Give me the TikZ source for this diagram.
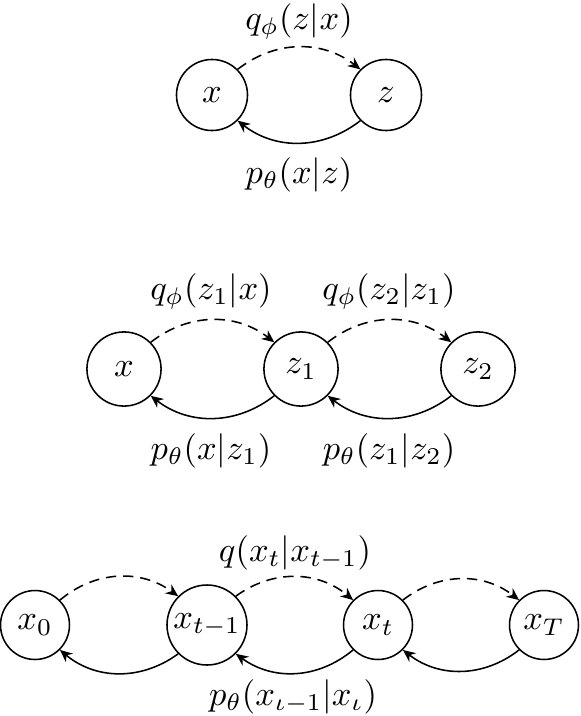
\documentclass[tikz,border=0pt]{standalone}
\usetikzlibrary{arrows.meta}
\begin{document}
\begin{tikzpicture}[x=0.29pt,y=-0.29pt,
  state/.style={circle,draw,line width=0.45pt,minimum size=21pt,inner sep=0pt},
  fwd/.style={line width=0.45pt,dash pattern=on 3pt off 2pt,-{Stealth[length=3.6pt,width=3.2pt]},bend left=38},
  bwd/.style={line width=0.45pt,-{Stealth[length=3.6pt,width=3.2pt]},bend left=38},
  lbl/.style={inner sep=0pt}]
\useasboundingbox (0,0) rectangle (580,716);
% top
\node[state,minimum size=20.6pt] (a1) at (212,95) {$x$};
\node[state,minimum size=20.6pt] (a2) at (386,95) {$z$};
\draw[fwd] (a1.45) to (a2.135);
\draw[bwd] (a2.-135) to (a1.-45);
\node[lbl] (la1) at (299,21) {$q_\phi(z|x)$};
\node[lbl] (la2) at (299,175) {$p_\theta(x|z)$};
% middle
\node[state,minimum size=21.5pt] (b1) at (124,369) {$x$};
\node[state,minimum size=21.5pt] (b2) at (301,369) {$z_1$};
\node[state,minimum size=21.5pt] (b3) at (478,369) {$z_2$};
\draw[fwd] (b1.45) to (b2.135);
\draw[fwd] (b2.45) to (b3.135);
\draw[bwd] (b2.-135) to (b1.-45);
\draw[bwd] (b3.-135) to (b2.-45);
\node[lbl] (lb1) at (211,291) {$q_\phi(z_1|x)$};
\node[lbl] (lb2) at (389,291) {$q_\phi(z_2|z_1)$};
\node[lbl] (lb3) at (211,451) {$p_\theta(x|z_1)$};
\node[lbl] (lb4) at (389,451) {$p_\theta(z_1|z_2)$};
% bottom
\node[state,minimum size=20pt] (c1) at (35,625) {$x_0$};
\node[state,minimum size=23.2pt] (c2) at (207,625) {$x_{t-1}$};
\node[state,minimum size=20pt] (c3) at (378,625) {$x_t$};
\node[state,minimum size=20pt] (c4) at (544,625) {$x_T$};
\draw[fwd] (c1.45) to (c2.135);
\draw[fwd] (c2.45) to (c3.135);
\draw[fwd] (c3.45) to (c4.135);
\draw[bwd] (c2.-135) to (c1.-45);
\draw[bwd] (c3.-135) to (c2.-45);
\draw[bwd] (c4.-135) to (c3.-45);
\node[lbl] (lc1) at (295,553) {$q(x_t|x_{t-1})$};
\node[lbl] (lc2) at (293,697) {$p_\theta(x_{\iota-1}|x_\iota)$};
\end{tikzpicture}
\end{document}
